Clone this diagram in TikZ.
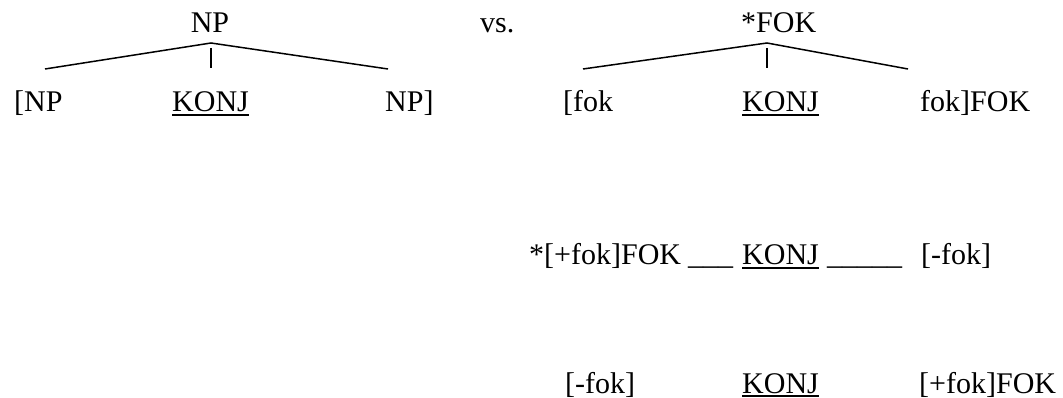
\documentclass[tikz,border=0pt]{standalone}
\usepackage{fontspec}
\setmainfont{Liberation Serif}
\begin{document}
\begin{tikzpicture}[x=1pt,y=-1pt,
  txt/.style={inner sep=0pt,anchor=base west,font=\fontsize{30}{34}\selectfont},
  ctxt/.style={txt,anchor=base},
  branch/.style={line width=1.5pt},
  ul/.style={line width=2pt}]
\useasboundingbox (0,0) rectangle (1063,398);
% left tree
\node[ctxt] (np) at (210,33) {NP};
\node[txt] (vs) at (480,33) {vs.};
\node[txt] (fok) at (741,33) {*FOK};
\coordinate (a1) at (211,43);
\coordinate (a1v) at (211,48);
\coordinate (l1) at (45,69);
\coordinate (m1) at (211,68);
\coordinate (r1) at (388,69);
\draw[branch] (l1) -- (a1) -- (r1);
\draw[branch] (a1v) -- (m1);
\node[txt] (lnp) at (14,112) {[NP};
\node[txt] (k1) at (172,112) {KONJ};
\node[txt] (rnp) at (385,112) {NP]};
% right tree
\coordinate (a2) at (767,43);
\coordinate (a2v) at (767,48);
\coordinate (l2) at (583,69);
\coordinate (m2) at (767,68);
\coordinate (r2) at (908,69);
\draw[branch] (l2) -- (a2) -- (r2);
\draw[branch] (a2v) -- (m2);
\node[txt] (lf) at (563,112) {[fok};
\node[txt] (k2) at (742,112) {KONJ};
\node[txt] (rf) at (920,112) {fok]FOK};
% row 2
\node[txt] (s1) at (529,265) {*[+fok]FOK};
\node[txt] (u1) at (688,265) {\_\_\_};
\node[txt] (k3) at (742,265) {KONJ};
\node[txt] (u2) at (827,265) {\_\_\_\_\_};
\node[txt] (s2) at (921,265) {[-fok]};
% row 3
\node[txt] (t1) at (565,393) {[-fok]};
\node[txt] (k4) at (742,393) {KONJ};
\node[txt] (t2) at (919,393) {[+fok]FOK};
% underlines
\foreach \k in {k1,k2,k3,k4}
  \draw[ul] ([yshift=-3pt]\k.base west) -- ([yshift=-3pt]\k.base east);
\end{tikzpicture}
\end{document}
